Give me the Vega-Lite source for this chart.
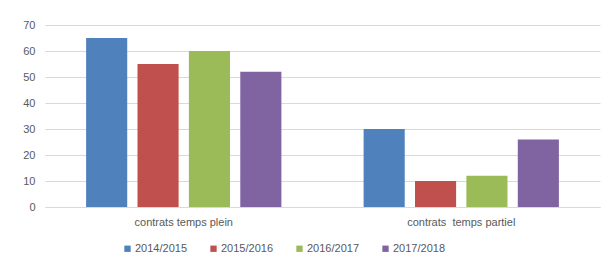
{
  "$schema": "https://vega.github.io/schema/vega-lite/v6.json",
  "width": 555,
  "height": 182,
  "autosize": {"type": "none"},
  "padding": {"left": 45, "top": 25, "right": 2, "bottom": 59},
  "background": "white",
  "data": {
    "values": [
      {"cat": "contrats temps plein", "year": "2014/2015", "value": 65},
      {"cat": "contrats temps plein", "year": "2015/2016", "value": 55},
      {"cat": "contrats temps plein", "year": "2016/2017", "value": 60},
      {"cat": "contrats temps plein", "year": "2017/2018", "value": 52},
      {"cat": "contrats\u00a0 temps partiel", "year": "2014/2015", "value": 30},
      {"cat": "contrats\u00a0 temps partiel", "year": "2015/2016", "value": 10},
      {"cat": "contrats\u00a0 temps partiel", "year": "2016/2017", "value": 12},
      {"cat": "contrats\u00a0 temps partiel", "year": "2017/2018", "value": 26}
    ]
  },
  "mark": {"type": "bar"},
  "encoding": {
    "x": {
      "field": "cat", "type": "nominal", "sort": null,
      "scale": {"paddingInner": 0, "paddingOuter": 0},
      "axis": {"title": null, "labelAngle": 0, "ticks": false, "domainColor": "#d9d9d9", "labelPadding": 9, "labelColor": "#595959", "labelFont": "Liberation Sans", "labelFontSize": 11}
    },
    "xOffset": {
      "field": "year", "type": "nominal",
      "scale": {"paddingInner": 0.2, "paddingOuter": 0.8}
    },
    "y": {
      "field": "value", "type": "quantitative",
      "scale": {"domain": [0, 70], "nice": false},
      "axis": {"title": null, "values": [0,10,20,30,40,50,60,70], "labelOverlap": false, "domain": false, "ticks": false, "gridColor": "#d9d9d9", "labelPadding": 10, "labelColor": "#595959", "labelFont": "Liberation Sans", "labelFontSize": 11}
    },
    "color": {
      "field": "year", "type": "nominal",
      "scale": {"range": ["#4F81BD", "#C0504D", "#9BBB59", "#8064A2"]},
      "legend": {"title": null, "orient": "none", "direction": "horizontal", "legendX": 77, "legendY": 218, "symbolType": "square", "symbolSize": 40, "columnPadding": 21, "labelColor": "#595959", "labelFont": "Liberation Sans", "labelFontSize": 11, "labelOffset": 2}
    }
  },
  "config": {"view": {"stroke": null}}
}
